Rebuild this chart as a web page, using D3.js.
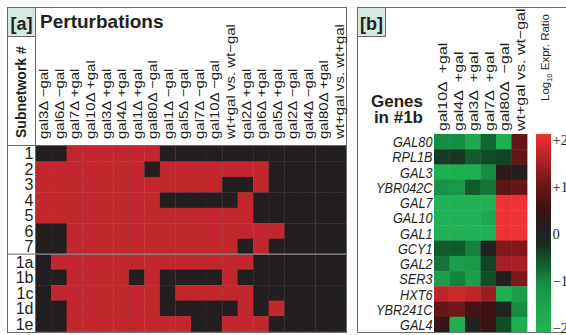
<!DOCTYPE html>
<html>
<head>
<meta charset="utf-8">
<script src="https://cdn.jsdelivr.net/npm/d3@7"></script>
<style>
  html, body { margin: 0; padding: 0; background: #fff; }
  svg { display: block; }
</style>
</head>
<body>
<script>
// ---- Panel [a]: which perturbations are active in each subnetwork ----
const perturbations = [
  "gal3Δ −gal", "gal6Δ −gal", "gal7Δ +gal", "gal10Δ +gal", "gal3Δ +gal",
  "gal4Δ +gal", "gal1Δ +gal", "gal80Δ −gal", "gal1Δ −gal", "gal5Δ −gal",
  "gal7Δ −gal", "gal10Δ −gal", "wt+gal vs. wt−gal", "gal2Δ +gal", "gal6Δ +gal",
  "gal5Δ +gal", "gal2Δ −gal", "gal4Δ −gal", "gal80Δ +gal", "wt+gal vs. wt+gal"
];
const subnetworks = ["1", "2", "3", "4", "5", "6", "7", "1a", "1b", "1c", "1d", "1e"];
// one string per subnetwork, one digit per perturbation (1 = member)
const membership = [
  "00111111000000000000",
  "11111110111111100000",
  "11111111111100100000",
  "11111111000001000000",
  "11111111111111000000",
  "00111111111111110000",
  "00111111111110100000",
  "01111111111111000000",
  "00111101000010000000",
  "01111111011111000000",
  "00111111000001010000",
  "00111111110011100000"
];

// ---- Panel [b]: log10 expression ratios for the genes of subnetwork 1b ----
const genes = ["GAL80", "RPL1B", "GAL3", "YBR042C", "GAL7", "GAL10", "GAL1",
               "GCY1", "GAL2", "SER3", "HXT6", "YBR241C", "GAL4"];
const geneConditions = ["gal10Δ\u2002+gal", "gal4Δ\u2002+gal", "gal3Δ\u2002+gal", "gal7Δ\u2002+gal",
                        "gal80Δ\u2002−gal", "wt+gal vs. wt−gal"];
const logRatios = [
  [-1.0, -1.0, -1.5, -0.7, -1.8,  0.9],
  [-0.35, -0.3, -0.6, -0.5, -0.4, 0.9],
  [-1.8, -1.8, -1.8, -1.0,  0.3,  0.15],
  [-1.1, -1.2, -0.6, -0.8,  0.8,  0.9],
  [-1.9, -1.9, -1.9, -1.9,  2.0,  2.0],
  [-1.9, -1.9, -1.9, -1.5,  2.0,  2.0],
  [-1.9, -1.9, -1.9, -1.9,  2.0,  2.0],
  [-0.6, -0.6, -0.9,  0.05, 1.1,  1.1],
  [-0.8, -1.3, -1.2, -0.4,  1.4,  1.4],
  [-1.3, -0.9, -1.3, -0.5,  0.15, 1.1],
  [ 1.6,  1.7,  1.6,  1.3, -1.8, -1.3],
  [ 0.9,  1.0,  0.6,  0.5, -0.1, -1.0],
  [ 0.4, -1.8,  0.0,  0.4, -0.5, -1.8]
];
const legendTicks = [2, 1, 0, -1, -2];
const legendTickLabels = ["+2", "+1", "0", "−1", "−2"];

// ---- drawing ----
const W = 566, H = 335;
const ink = "#231f20", frame = "#6a6a6a";
const sans = "'Liberation Sans', Arial, Helvetica, sans-serif";
const serif = "'Liberation Serif', 'Times New Roman', serif";

const svg = d3.select("body").append("svg")
  .attr("width", W).attr("height", H)
  .style("font-family", sans);

/* ===== panel a ===== */
const A = { left: 7.5, top: 7.5, right: 346.5, bottom: 332.5, gridLeft: 35.5, gridTop: 146, gridBottom: 331.5 };
const ga = svg.append("g");

const xa = d3.scaleBand().domain(d3.range(perturbations.length)).range([A.gridLeft, A.right]);
const ya = d3.scaleBand().domain(subnetworks).range([A.gridTop, A.gridBottom]);

// cells
const cells = [];
membership.forEach((row, r) => row.split("").forEach((v, c) =>
  cells.push({ sub: subnetworks[r], col: c, on: v === "1" })));
ga.append("g").selectAll("rect").data(cells).join("rect")
  .attr("x", d => xa(d.col)).attr("y", d => ya(d.sub))
  .attr("width", xa.bandwidth() + 0.4).attr("height", ya.bandwidth() + 0.4)
  .attr("fill", d => d.on ? "#c1272d" : ink);

// faint guide lines every third column
ga.append("g").selectAll("line").data(d3.range(3, perturbations.length, 3)).join("line")
  .attr("x1", d => xa(d)).attr("x2", d => xa(d))
  .attr("y1", A.gridTop).attr("y2", A.gridBottom)
  .attr("stroke", "#5a5a5a").attr("stroke-opacity", 0.3).attr("stroke-width", 0.8);

// separator between main subnetworks and the 1a–1e split
ga.append("line")
  .attr("x1", A.left).attr("x2", A.right)
  .attr("y1", ya("1a")).attr("y2", ya("1a"))
  .attr("stroke", "#8a8a8a").attr("stroke-width", 1.2);

// frame and dividers
ga.append("rect").attr("x", A.left).attr("y", A.top)
  .attr("width", A.right - A.left).attr("height", A.bottom - A.top)
  .attr("fill", "none").attr("stroke", frame);
ga.append("line").attr("x1", A.gridLeft).attr("x2", A.gridLeft)
  .attr("y1", A.top).attr("y2", A.bottom).attr("stroke", frame);
ga.append("line").attr("x1", A.left).attr("x2", A.right)
  .attr("y1", A.gridTop - 0.5).attr("y2", A.gridTop - 0.5).attr("stroke", frame);

// tag box
ga.append("rect").attr("x", A.left).attr("y", A.top).attr("width", 28).attr("height", 29)
  .attr("fill", "#d6e8df").attr("stroke", frame);
ga.append("text").attr("x", A.left + 14).attr("y", A.top + 22)
  .attr("text-anchor", "middle").attr("font-size", 18).attr("font-weight", "bold")
  .attr("fill", ink).text("[a]");

ga.append("text").attr("x", 40).attr("y", 28)
  .attr("font-size", 19).attr("font-weight", "bold").attr("fill", ink)
  .text("Perturbations");

ga.append("text").attr("transform", "translate(26,138) rotate(-90)")
  .attr("font-size", 14).attr("font-weight", "bold").attr("fill", ink)
  .text("Subnetwork #");

// row labels
ga.append("g").selectAll("text").data(subnetworks).join("text")
  .attr("x", 33.5).attr("y", d => ya(d) + ya.bandwidth() / 2)
  .attr("dy", "0.36em").attr("text-anchor", "end")
  .attr("font-size", 16).attr("fill", ink).text(d => d);

// column labels
ga.append("g").selectAll("text").data(perturbations).join("text")
  .attr("transform", (d, i) => `translate(${xa(i) + xa.bandwidth() / 2 + 0.5},139) scale(0.85,1) rotate(-90)`)
  .attr("dy", "0.36em").attr("font-size", 15).attr("fill", ink).text(d => d);

/* ===== panel b ===== */
const B = { left: 357.5, top: 7.5, bottom: 332.5, hmLeft: 434, hmRight: 527, hmTop: 134, hmBottom: 332 };
const gb = svg.append("g");

const color = d3.scaleLinear()
  .domain([-2, -1.5, -1, -0.5, -0.2, 0.1, 0.5, 1, 1.5, 2])
  .range(["#20b455", "#1ea84f", "#178c45", "#0f4f27", "#1c2a20", "#231f20", "#3d1213", "#701719", "#b3232a", "#ec3234"])
  .clamp(true);

const xb = d3.scaleBand().domain(d3.range(geneConditions.length)).range([B.hmLeft, B.hmRight]);
const yb = d3.scaleBand().domain(genes).range([B.hmTop, B.hmBottom]);

const hcells = [];
logRatios.forEach((row, r) => row.forEach((v, c) => hcells.push({ gene: genes[r], col: c, v })));
gb.append("g").selectAll("rect").data(hcells).join("rect")
  .attr("x", d => xb(d.col)).attr("y", d => yb(d.gene))
  .attr("width", xb.bandwidth() + 0.4).attr("height", yb.bandwidth() + 0.4)
  .attr("fill", d => color(d.v));

// frame
gb.append("line").attr("x1", B.left).attr("x2", W).attr("y1", B.top).attr("y2", B.top).attr("stroke", frame);
gb.append("line").attr("x1", B.left).attr("x2", B.left).attr("y1", B.top).attr("y2", B.bottom).attr("stroke", frame);
gb.append("line").attr("x1", B.left).attr("x2", W).attr("y1", B.bottom).attr("y2", B.bottom).attr("stroke", frame);

gb.append("rect").attr("x", B.left).attr("y", B.top).attr("width", 28).attr("height", 29)
  .attr("fill", "#d6e8df").attr("stroke", frame);
gb.append("text").attr("x", B.left + 14).attr("y", B.top + 22)
  .attr("text-anchor", "middle").attr("font-size", 18).attr("font-weight", "bold")
  .attr("fill", ink).text("[b]");

gb.append("text").attr("x", 423).attr("y", 107).attr("text-anchor", "end")
  .attr("font-size", 17).attr("font-weight", "bold").attr("fill", ink).text("Genes");
gb.append("text").attr("x", 423).attr("y", 122.5).attr("text-anchor", "end")
  .attr("font-size", 17).attr("font-weight", "bold").attr("fill", ink).text("in #1b");

// gene names
gb.append("g").selectAll("text").data(genes).join("text")
  .attr("transform", d => `translate(432.5,${yb(d) + yb.bandwidth() / 2}) scale(0.82,1)`)
  .attr("dy", "0.36em").attr("text-anchor", "end")
  .attr("font-size", 15.5).attr("font-style", "italic").attr("fill", ink).text(d => d);

// condition labels
gb.append("g").selectAll("text").data(geneConditions).join("text")
  .attr("transform", (d, i) => `translate(${xb(i) + xb.bandwidth() / 2 + 0.5},131) scale(0.85,1) rotate(-90)`)
  .attr("dy", "0.36em").attr("font-size", 16).attr("fill", ink).text(d => d);

// colour bar
const defs = svg.append("defs");
const grad = defs.append("linearGradient").attr("id", "ratioGrad")
  .attr("x1", 0).attr("x2", 0).attr("y1", 0).attr("y2", 1);
grad.selectAll("stop").data(d3.range(0, 1.0001, 0.05)).join("stop")
  .attr("offset", d => d).attr("stop-color", d => color(2 - 4 * d));
gb.append("rect").attr("x", 536).attr("y", B.hmTop).attr("width", 15)
  .attr("height", B.hmBottom - B.hmTop).attr("fill", "url(#ratioGrad)");

const tickY = d3.scaleLinear().domain([2, -2]).range([139.5, 328]);
gb.append("g").selectAll("text").data(legendTicks).join("text")
  .attr("x", 552.5).attr("y", d => tickY(d)).attr("dy", "0.36em")
  .attr("font-family", serif).attr("font-size", 14.5).attr("fill", ink)
  .text((d, i) => legendTickLabels[i]);

const lt = gb.append("text").attr("transform", "translate(549,101) rotate(-90)")
  .attr("font-size", 11.5).attr("fill", ink);
lt.append("tspan").text("Log");
lt.append("tspan").attr("dy", 3).attr("font-size", 7.5).text("10");
lt.append("tspan").attr("dy", -3).text(" Expr. Ratio");
</script>
</body>
</html>
